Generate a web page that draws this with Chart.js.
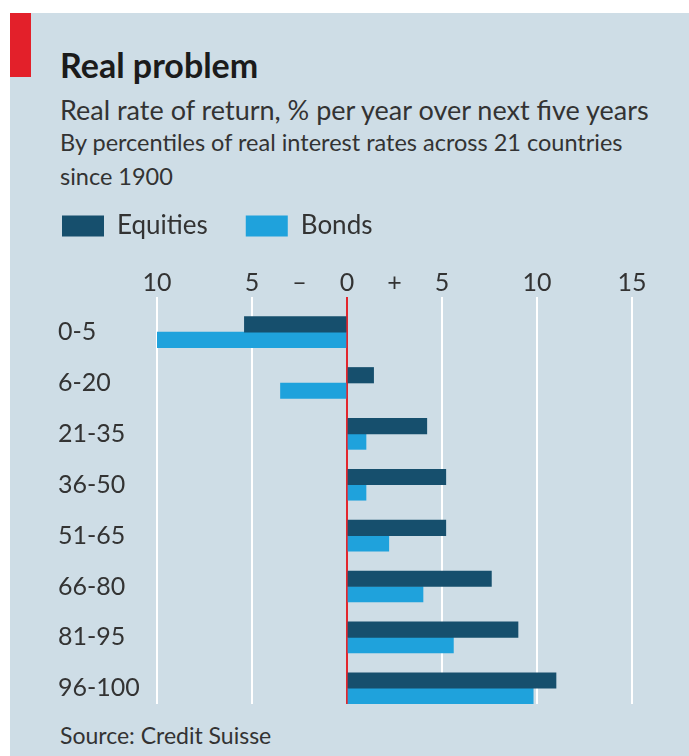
<!DOCTYPE html>
<html>
<head>
<meta charset="utf-8">
<script src="https://cdn.jsdelivr.net/npm/chart.js@4.4.1/dist/chart.umd.min.js"></script>
<style>
  body { margin: 0; background: #fff; font-family: Lato, sans-serif; }
  #panel { position: absolute; left: 10px; top: 13px; width: 679px; height: 743px; background: #cedde6; }
  #redbox { position: absolute; left: 10px; top: 13px; width: 21px; height: 64px; background: #e3202a; }
  .txt { position: absolute; left: 60px; white-space: nowrap; line-height: 1; color: #333; }
  #title { top: 48px; font-size: 34px; font-weight: bold; color: #1b1b1b; }
  #sub1 { top: 96px; font-size: 27px; }
  #sub2 { top: 131px; font-size: 23.5px; }
  #sub3 { top: 165px; font-size: 23.5px; }
  #source { top: 724px; font-size: 23px; }
  #chart { position: absolute; left: 0; top: 0; }
</style>
</head>
<body>
<div id="panel"></div>
<div id="redbox"></div>
<div class="txt" id="title">Real problem</div>
<div class="txt" id="sub1">Real rate of return, % per year over next five years</div>
<div class="txt" id="sub2">By percentiles of real interest rates across 21 countries</div>
<div class="txt" id="sub3">since 1900</div>
<div class="txt" id="source">Source: Credit Suisse</div>
<canvas id="chart" width="689" height="756"></canvas>
<script>
// percentiles of real interest rates
const categories = ['0-5', '6-20', '21-35', '36-50', '51-65', '66-80', '81-95', '96-100'];
const equities = [-5.4, 1.4, 4.2, 5.2, 5.2, 7.6, 9.0, 11.0];
const bonds = [-10.0, -3.5, 1.0, 1.0, 2.2, 4.0, 5.6, 9.8];

// top axis labels (left side shown without minus sign)
const tickValues = [-10, -7.5, -5, -2.5, 0, 2.5, 5, 7.5, 10, 12.5, 15];
const tickLabels = ['10', '', '5', '–', '0', '+', '5', '', '10', '', '15'];
const gridAt = [-10, -5, 5, 10, 15];

const textColor = '#333';
const labelFont = { family: 'Lato', size: 25 };

const ctx = document.getElementById('chart');
new Chart(ctx, {
  type: 'bar',
  data: {
    datasets: [{
      label: 'Equities',
      data: equities.map((v, i) => ({ x: v, y: i })),
      backgroundColor: '#164f6d',
      barThickness: 15.5,
      xAxisID: 'x',
      yAxisID: 'y'
    }, {
      label: 'Bonds',
      data: bonds.map((v, i) => ({ x: v, y: i })),
      backgroundColor: '#1fa2dc',
      barThickness: 15.5,
      xAxisID: 'x',
      yAxisID: 'y'
    }]
  },
  options: {
    indexAxis: 'y',
    responsive: false,
    animation: false,
    devicePixelRatio: 1,
    layout: { padding: { left: 24, right: 57, top: 175, bottom: 52 } },
    plugins: {
      tooltip: { enabled: false },
      legend: {
        position: 'top',
        align: 'start',
        labels: {
          boxWidth: 42,
          boxHeight: 21,
          padding: 38,
          color: textColor,
          font: { family: 'Lato', size: 26 }
        }
      }
    },
    scales: {
      y: {
        type: 'linear',
        position: 'left',
        weight: 0,
        reverse: true,
        offset: false,
        min: -0.69,
        max: 7.31,
        grid: { display: false },
        border: { display: false },
        ticks: {
          autoSkip: false,
          crossAlign: 'far',
          color: textColor,
          font: labelFont,
          callback: v => categories[v]
        },
        afterBuildTicks: s => { s.ticks = categories.map((c, i) => ({ value: i })); },
        afterFit: s => { s.width = 99; }
      },
      x: {
        type: 'linear',
        position: 'top',
        min: -10,
        max: 15,
        border: { display: false },
        grid: {
          drawTicks: false,
          lineWidth: 2,
          color: c => {
            if (c.tick.value === 0) return '#e3262d';
            return gridAt.includes(c.tick.value) ? '#ffffff' : 'rgba(0,0,0,0)';
          }
        },
        ticks: {
          stepSize: 2.5,
          autoSkip: false,
          maxRotation: 0,
          padding: -1,
          color: textColor,
          font: labelFont,
          callback: v => {
            const i = tickValues.indexOf(v);
            return i >= 0 ? tickLabels[i] : '';
          }
        },
        afterFit: s => { s.height += 20; }
      },
      pad: { // empty axis: keeps the category labels off the left edge
        type: 'linear',
        position: 'left',
        weight: 5,
        display: true,
        grid: { display: false },
        border: { display: false },
        ticks: { display: false },
        afterFit: s => { s.width = 34; }
      }
    }
  }
});
</script>
</body>
</html>
